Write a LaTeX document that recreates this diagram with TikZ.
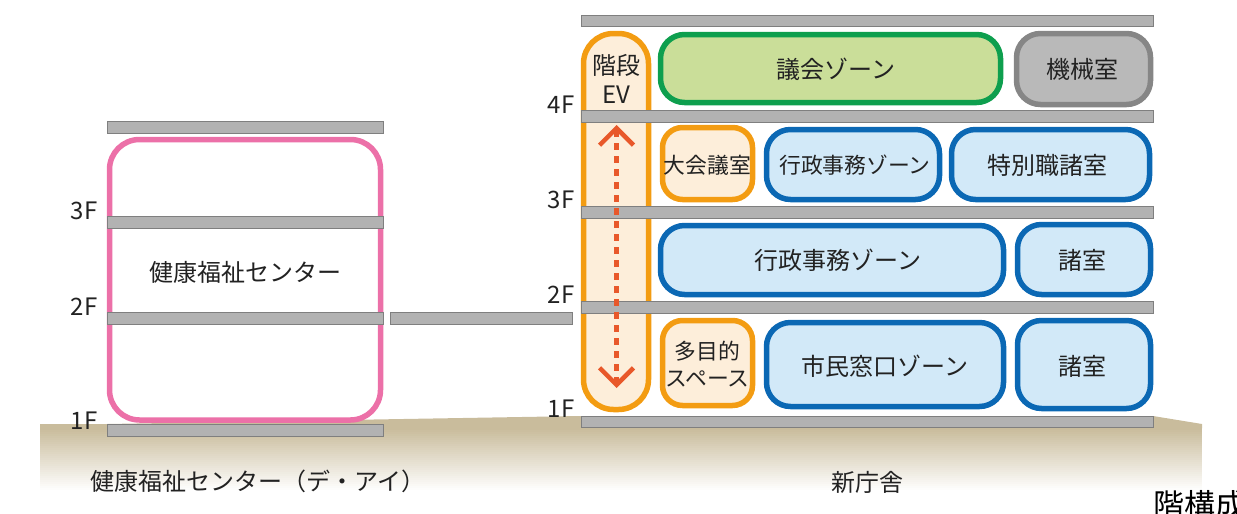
\documentclass[tikz,border=0pt]{standalone}
\usepackage{fontspec}
\setmainfont{Noto Sans CJK JP}[Scale=1]
\usetikzlibrary{arrows.meta}
\definecolor{floorfill}{HTML}{B2B2B2}
\definecolor{floorline}{HTML}{7F7F7F}
\definecolor{kikaifill}{HTML}{B9B9B9}
\definecolor{kikailine}{HTML}{868686}
\definecolor{orangeline}{HTML}{F39C12}
\definecolor{orangefill}{HTML}{FDEEDA}
\definecolor{blueline}{HTML}{0B68B4}
\definecolor{bluefill}{HTML}{D2E9F8}
\definecolor{greenline}{HTML}{0E9F4E}
\definecolor{greenfill}{HTML}{CADE99}
\definecolor{pinkline}{HTML}{EC70A8}
\definecolor{ground}{HTML}{C9BC9C}
\definecolor{arrowred}{HTML}{E8582A}
\definecolor{ink}{HTML}{222222}
\tikzset{
  x=1pt,y=-1pt,
  every node/.style={text=ink,inner sep=0pt,outer sep=0pt,align=center,font=\fontsize{24}{29}\selectfont},
  room/.style={line width=5.5pt,rounded corners=24pt},
  orangeroom/.style={room,draw=orangeline,fill=orangefill},
  blueroom/.style={room,draw=blueline,fill=bluefill},
  floorbar/.style={draw=floorline,fill=floorfill,line width=0.9pt},
  smalltext/.style={font=\fontsize{21.8}{27}\selectfont},
}
\begin{document}
\begin{tikzpicture}
\useasboundingbox (0,0) rectangle (1237,514);
% ground
\fill[ground] (40,424) -- (107,424) -- (581,416) -- (1153,416) -- (1202,424) -- (1202,428.4) -- (40,428.4) -- cycle;
\foreach \i in {0,...,30}{
  \pgfmathsetmacro{\yy}{428+2*\i}
  \pgfmathsetmacro{\yz}{\yy+2.4}
  \pgfmathsetmacro{\pp}{100-100*\i/31}
  \fill[ground!\pp!white] (40,\yy) rectangle (1202,\yz);
}
% left building
\draw[room,rounded corners=30pt,draw=pinkline,fill=white] (109.5,139.5) rectangle (380.5,420);
% right rooms
\draw[orangeroom,rounded corners=30pt] (583.5,33.5) rectangle (648.5,409.5);
\draw[room,draw=greenline,fill=greenfill] (660.5,34.5) rectangle (1000.5,102.5);
\draw[room,draw=kikailine,fill=kikaifill] (1016.5,33.5) rectangle (1150.5,104.5);
\draw[orangeroom,rounded corners=20pt] (662.5,127.5) rectangle (752.5,199.5);
\draw[blueroom] (766.5,129.5) rectangle (939.5,199.5);
\draw[blueroom] (951.5,129.5) rectangle (1149.5,199.5);
\draw[blueroom] (660.5,225.5) rectangle (1003.5,294.5);
\draw[blueroom] (1017.5,224.5) rectangle (1150.5,294.5);
\draw[orangeroom,rounded corners=20pt] (662.5,320.5) rectangle (752.5,405.5);
\draw[blueroom] (766.5,322.5) rectangle (1003.5,406.5);
\draw[blueroom] (1017.5,320.5) rectangle (1150.5,408.5);
% floors
\draw[floorbar] (107,121.5) rectangle (383,133);
\draw[floorbar] (107,216.5) rectangle (383,228);
\draw[floorbar] (107,312.5) rectangle (383,324);
\draw[floorbar] (107,424.5) rectangle (383,436);
\draw[floorbar] (390,312.5) rectangle (572,324);
\draw[floorbar] (581,15) rectangle (1153,26);
\draw[floorbar] (581,110.5) rectangle (1153,122);
\draw[floorbar] (581,206.5) rectangle (1153,218);
\draw[floorbar] (581,301.5) rectangle (1153,313);
\draw[floorbar] (581,416) rectangle (1153,427);
% arrow
\coordinate (arrowtop) at (616.5,125);
\coordinate (arrowbot) at (616.5,388);
\draw[arrowred,line width=4.5pt,dash pattern=on 7pt off 6pt,
  {Straight Barb[length=17pt,width=34pt,line width=4.5pt]}-{Straight Barb[length=17pt,width=34pt,line width=4.5pt]}]
  (arrowtop) -- (arrowbot);
% labels
\node (f3l) at (84,211) {3F};
\node (f2l) at (84,307) {2F};
\node (f1l) at (84,421) {1F};
\node (f4r) at (561,105) {4F};
\node (f3r) at (561,200) {3F};
\node (f2r) at (561,295) {2F};
\node (f1r) at (561,409) {1F};
\node (health) at (245,272) {健康福祉センター};
\node (stair) at (616.5,79) {階段\\EV};
\node (gikai) at (836,69) {議会ゾーン};
\node (kikai) at (1082,69) {機械室};
\node[smalltext] (daikaigi) at (707.5,165) {大会議室};
\node[smalltext] (gyosei3) at (855,165) {行政事務ゾーン};
\node (tokubetsu) at (1047.5,165) {特別職諸室};
\node (gyosei2) at (838,260) {行政事務ゾーン};
\node (shitsu2) at (1082,260) {諸室};
\node[smalltext] (tamokuteki) at (707.5,364) {多目的\\スペース};
\node (shimin) at (885,366) {市民窓口ゾーン};
\node (shitsu1) at (1082,366) {諸室};
\node (healthname) at (258,481) {健康福祉センター（デ・アイ）};
\node (newhall) at (867,482) {新庁舎};
\node[anchor=west,font=\fontsize{31}{34}\selectfont,text=black] (kaikousei) at (1153,505) {階構成};
\end{tikzpicture}
\end{document}
